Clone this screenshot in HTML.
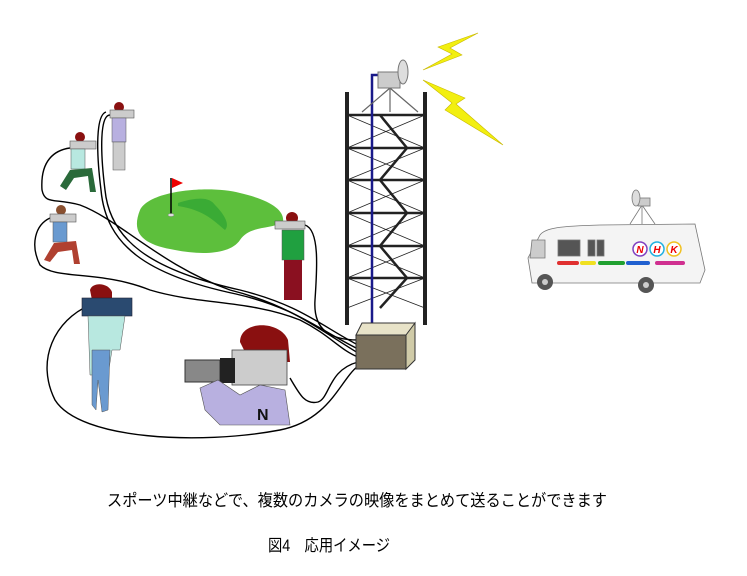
<!DOCTYPE html>
<html><head><meta charset="utf-8"><style>
html,body{margin:0;padding:0;background:#fff;}
svg{display:block}
text{font-family:"Liberation Sans","Noto Sans CJK JP",sans-serif;}
</style></head><body>
<svg width="747" height="576" viewBox="0 0 747 576" xmlns="http://www.w3.org/2000/svg">
<rect width="747" height="576" fill="#fff"/>

<!-- cables -->
<g fill="none" stroke="#000" stroke-width="1.4">
 <path d="M110 115 C100 115 100 150 105 190 C110 240 150 270 240 290 C300 305 320 325 358 345"/>
 <path d="M106 112 C96 115 96 150 101 190 C106 245 146 275 236 294 C296 308 316 328 358 349"/>
 <path d="M70 148 C55 150 40 160 42 190 C45 205 55 198 80 205 C120 220 160 265 230 290 C290 305 320 330 358 353"/>
 <path d="M50 218 C35 225 30 245 40 265 C55 280 100 270 150 290 C200 305 250 300 300 320 C330 335 340 350 358 357"/>
 <path d="M305 225 C320 230 317 270 315 300 C313 330 330 340 358 340"/>
 <path d="M290 378 C300 395 305 405 318 402 C330 398 328 370 358 362"/>
 <path d="M90 305 C55 320 35 360 55 400 C80 440 200 445 280 430 C330 420 340 380 358 366"/>
</g>

<!-- green -->
<path d="M140 210 C150 190 210 185 240 193 C270 200 285 210 283 222 C270 230 250 225 240 240 C230 255 200 255 175 250 C145 245 130 235 140 210Z" fill="#5dbf3c"/>
<path d="M178 203 C200 196 210 198 215 205 C225 215 230 225 225 230 C215 222 205 210 178 206Z" fill="#3aab35"/>
<line x1="171" y1="178" x2="171" y2="214" stroke="#000" stroke-width="1.5"/>
<polygon points="172,178 183,183 172,188" fill="#e00"/>
<ellipse cx="171" cy="215" rx="3" ry="1.5" fill="#ddd" stroke="#888" stroke-width=".5"/>

<!-- tower -->
<g stroke="#222">
 <line x1="347" y1="92" x2="347" y2="325" stroke-width="4"/>
 <line x1="425" y1="92" x2="425" y2="325" stroke-width="4"/>
 <g stroke-width="2.5">
  <line x1="347" y1="115" x2="425" y2="115"/><line x1="347" y1="148" x2="425" y2="148"/>
  <line x1="347" y1="180" x2="425" y2="180"/><line x1="347" y1="213" x2="425" y2="213"/>
  <line x1="347" y1="246" x2="425" y2="246"/><line x1="347" y1="278" x2="425" y2="278"/>
 </g>
 <g stroke-width=".8">
  <path d="M347 115 L425 148 M425 115 L347 148 M347 148 L425 180 M425 148 L347 180 M347 180 L425 213 M425 180 L347 213 M347 213 L425 246 M425 213 L347 246 M347 246 L425 278 M425 246 L347 278 M347 278 L425 308 M425 278 L347 308"/>
 </g>
 <path d="M380 115 L407 148 L380 180 L407 213 L380 246 L407 278 L380 308" fill="none" stroke-width="2.5"/>
</g>
<path d="M372 323 L372 75 L385 75" fill="none" stroke="#1a1a8a" stroke-width="2.5"/>
<!-- dish -->
<g stroke="#666" stroke-width="1.2"><line x1="390" y1="88" x2="362" y2="112"/><line x1="390" y1="88" x2="418" y2="112"/><line x1="390" y1="88" x2="390" y2="112"/></g>
<rect x="378" y="72" width="22" height="16" fill="#ccc" stroke="#777"/>
<ellipse cx="403" cy="72" rx="5" ry="12" fill="#ddd" stroke="#777"/>
<!-- lightning -->
<polygon points="478,33 438,47 452,54 423,70 462,55 450,48" fill="#f2ef10" stroke="#c8b800" stroke-width=".6"/>
<polygon points="423,80 465,98 456,104 503,145 445,110 452,103" fill="#f2ef10" stroke="#c8b800" stroke-width=".6"/>
<!-- box -->
<polygon points="356,335 362,323 415,323 413,335" fill="#e8e3c8" stroke="#333"/>
<polygon points="406,335 415,323 415,360 406,369" fill="#d0cba8" stroke="#333"/>
<rect x="356" y="335" width="50" height="34" fill="#7a705c" stroke="#333"/>

<!-- truck -->
<g stroke="#777" stroke-width=".8">
 <line x1="642" y1="205" x2="630" y2="224"/><line x1="642" y1="205" x2="655" y2="224"/><line x1="642" y1="205" x2="642" y2="224"/>
 <rect x="638" y="198" width="12" height="8" fill="#ccc"/>
 <ellipse cx="636" cy="198" rx="4" ry="8" fill="#ddd"/>
 <path d="M540 235 C545 228 560 226 600 225 L695 224 L705 270 L700 283 L532 283 L528 258 Z" fill="#f4f4f4"/>
 <rect x="558" y="240" width="22" height="16" fill="#555"/>
 <rect x="588" y="240" width="7" height="16" fill="#555"/><rect x="597" y="240" width="7" height="16" fill="#555"/>
 <path d="M532 240 L545 240 L545 258 L530 258 Z" fill="#ccc"/>
</g>
<g stroke-width="4" stroke-linecap="round">
 <line x1="559" y1="263" x2="577" y2="263" stroke="#e03030"/><line x1="582" y1="263" x2="594" y2="263" stroke="#f0e020"/>
 <line x1="600" y1="263" x2="623" y2="263" stroke="#20a030"/><line x1="628" y1="263" x2="648" y2="263" stroke="#2060d0"/>
 <line x1="657" y1="263" x2="683" y2="263" stroke="#d03090"/>
</g>
<circle cx="640" cy="249" r="7" fill="#fff" stroke="#8040c0" stroke-width="1.5"/>
<circle cx="657" cy="249" r="7" fill="#fff" stroke="#20b0e0" stroke-width="1.5"/>
<circle cx="674" cy="249" r="7" fill="#fff" stroke="#f0c020" stroke-width="1.5"/>
<text x="640" y="253" font-size="10" font-weight="bold" font-style="italic" fill="#e00" text-anchor="middle">N</text>
<text x="657" y="253" font-size="10" font-weight="bold" font-style="italic" fill="#e00" text-anchor="middle">H</text>
<text x="674" y="253" font-size="10" font-weight="bold" font-style="italic" fill="#e00" text-anchor="middle">K</text>
<circle cx="545" cy="282" r="8" fill="#555"/><circle cx="545" cy="282" r="3" fill="#ccc"/>
<circle cx="646" cy="285" r="8" fill="#555"/><circle cx="646" cy="285" r="3" fill="#ccc"/>

<!-- people (simplified) -->
<circle cx="119" cy="107" r="5" fill="#8a1010"/>
<rect x="110" y="110" width="24" height="8" fill="#ccc" stroke="#555" stroke-width=".6"/>
<rect x="112" y="118" width="14" height="24" fill="#b8b0e0" stroke="#555" stroke-width=".5"/>
<rect x="113" y="142" width="12" height="28" fill="#ccc" stroke="#555" stroke-width=".5"/>
<circle cx="80" cy="137" r="5" fill="#8a1010"/>
<rect x="70" y="141" width="26" height="8" fill="#ccc" stroke="#555" stroke-width=".6"/>
<rect x="71" y="149" width="14" height="20" fill="#b8e8e0" stroke="#555" stroke-width=".5"/>
<path d="M60 186 L70 170 L92 168 L96 192 L90 192 L88 176 L74 178 L66 190Z" fill="#2a6a3a"/>
<circle cx="61" cy="210" r="5" fill="#8a5030"/>
<rect x="50" y="214" width="26" height="8" fill="#ccc" stroke="#555" stroke-width=".6"/>
<rect x="53" y="222" width="14" height="20" fill="#6a9ad0" stroke="#555" stroke-width=".5"/>
<path d="M44 260 L54 243 L76 241 L80 264 L74 264 L72 250 L58 252 L50 262Z" fill="#b04030"/>
<circle cx="292" cy="218" r="6" fill="#8a1010"/>
<rect x="275" y="221" width="30" height="8" fill="#ccc" stroke="#555" stroke-width=".6"/>
<rect x="282" y="230" width="22" height="30" fill="#20a040" stroke="#555" stroke-width=".5"/>
<rect x="284" y="260" width="18" height="40" fill="#8a1020"/>
<path d="M90 290 C92 282 108 282 112 292 L112 300 L92 300Z" fill="#8a1010"/>
<rect x="82" y="298" width="50" height="18" fill="#2a4a70" stroke="#223" stroke-width=".6"/>
<path d="M88 316 L125 316 L120 350 L112 350 L108 375 L90 375 Z" fill="#b8e8e0" stroke="#555" stroke-width=".5"/>
<path d="M92 350 L110 350 L108 410 L102 412 L98 380 L96 410 L92 405Z" fill="#6a9ad0" stroke="#555" stroke-width=".5"/>
<path d="M240 342 C240 320 280 320 288 340 L290 362 L250 362Z" fill="#8a1010"/>
<rect x="232" y="350" width="55" height="35" fill="#ccc" stroke="#444" stroke-width=".8"/>
<rect x="185" y="360" width="35" height="22" fill="#888" stroke="#333"/>
<rect x="220" y="358" width="15" height="25" fill="#222"/>
<path d="M200 388 L218 380 L240 395 L260 385 L285 390 L290 425 L220 425 L205 410Z" fill="#b8b0e0" stroke="#555" stroke-width=".6"/>
<text x="257" y="420" font-size="16" font-weight="bold" fill="#111">N</text>

<!-- text -->
<text x="107" y="506" font-size="16.5" fill="#000" textLength="500" lengthAdjust="spacingAndGlyphs">スポーツ中継などで、複数のカメラの映像をまとめて送ることができます</text>
<text x="268" y="551" font-size="16.5" fill="#000" textLength="122" lengthAdjust="spacingAndGlyphs">図4　応用イメージ</text>
</svg>
</body></html>
